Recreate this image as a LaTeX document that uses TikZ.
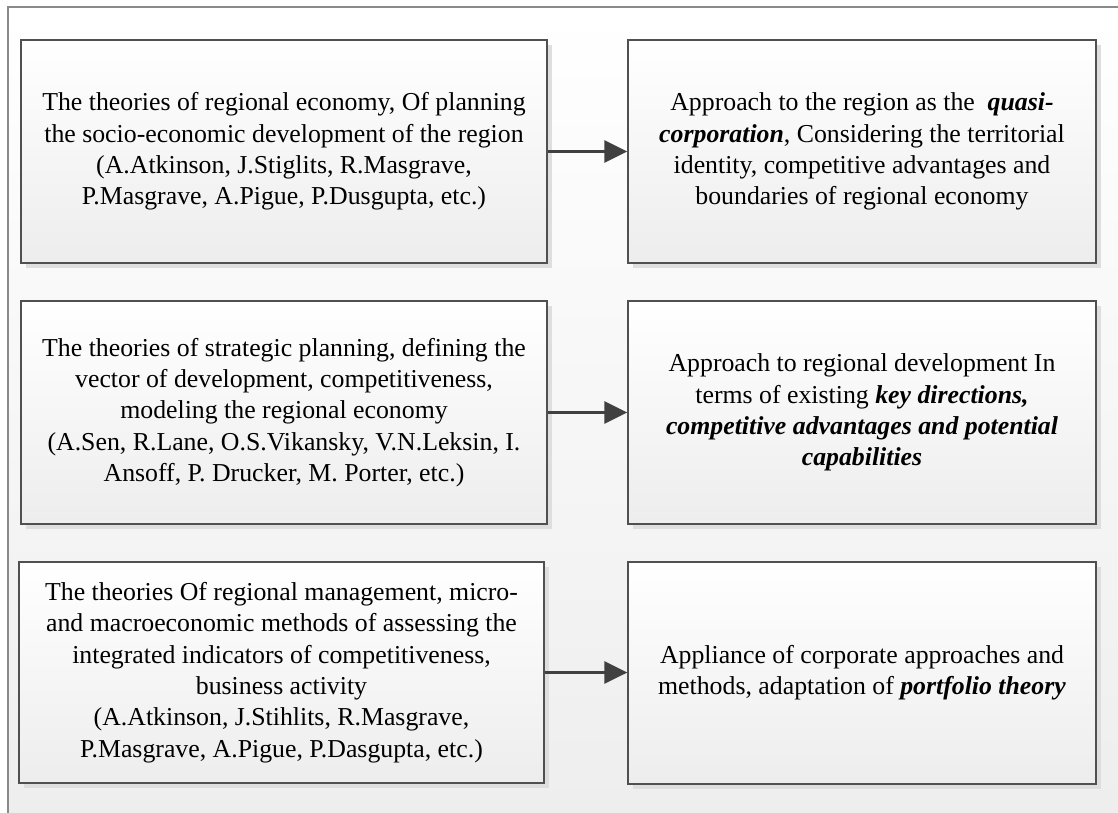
\documentclass[tikz,border=0pt]{standalone}
\usepackage{fontspec}
\setmainfont{Liberation Serif}
\usetikzlibrary{arrows.meta,shadows}
\definecolor{framegray}{HTML}{8A8A8A}
\definecolor{boxline}{HTML}{505050}
\definecolor{boxbot}{HTML}{EDEDED}
\definecolor{bgbot}{HTML}{EEEEEE}
\definecolor{shadowgray}{HTML}{DEDEDE}
\definecolor{arrowgray}{HTML}{404040}
\tikzset{
  box/.style={draw=boxline, line width=1.3pt, top color=white, bottom color=boxbot,
    align=center, inner sep=0pt, text=black,
    font=\fontsize{25.8}{31.3}\selectfont,
    drop shadow={shadow xshift=5pt, shadow yshift=-5pt, fill=shadowgray, opacity=1}},
  leftbox/.style={box, minimum width=526pt, minimum height=223pt},
  rightbox/.style={box, minimum width=468pt, minimum height=223pt},
  link/.style={draw=arrowgray, line width=3pt, -{Triangle[length=23pt,width=22pt]}}
}
\newcommand{\bit}[1]{\textbf{\textit{#1}}}
\begin{document}
\begin{tikzpicture}[x=1pt,y=-1pt]
\useasboundingbox (0,0) rectangle (1118,813);
\shade[top color=white, bottom color=bgbot] (8,7) rectangle (1118,813);
\draw[framegray, line width=1.3pt] (8,813) -- (8,7) -- (1118,7);

\node[leftbox] (l1) at (284,151.5) {The theories of regional economy, Of planning\\the socio-economic development of the region\\(A.Atkinson, J.Stiglits, R.Masgrave,\\P.Masgrave, A.Pigue, P.Dusgupta, etc.)};
\node[rightbox] (r1) at (862,151.5) {Approach to the region as the \ \bit{quasi-}\\\bit{corporation}, Considering the territorial\\identity, competitive advantages and\\boundaries of regional economy};

\node[leftbox] (l2) at (284,412.5) {The theories of strategic planning, defining the\\vector of development, competitiveness,\\modeling the regional economy\\(A.Sen, R.Lane, O.S.Vikansky, V.N.Leksin, I.\\Ansoff, P. Drucker, M. Porter, etc.)};
\node[rightbox] (r2) at (862,412.5) {Approach to regional development In\\terms of existing \bit{key directions,}\\\bit{competitive advantages and potential}\\\bit{capabilities}};

\node[box, minimum width=525pt, minimum height=221pt] (l3) at (281.5,672.5) {The theories Of regional management, micro-\\and macroeconomic methods of assessing the\\integrated indicators of competitiveness,\\business activity\\(A.Atkinson, J.Stihlits, R.Masgrave,\\P.Masgrave, A.Pigue, P.Dasgupta, etc.)};
\node[rightbox, minimum height=222pt] (r3) at (862,673) {Appliance of corporate approaches and\\methods, adaptation of \bit{portfolio theory}};

\draw[link] (l1.east) -- (r1.west);
\draw[link] (l2.east) -- (r2.west);
\draw[link] (l3.east) -- (l3.east -| r3.west);
\end{tikzpicture}
\end{document}
